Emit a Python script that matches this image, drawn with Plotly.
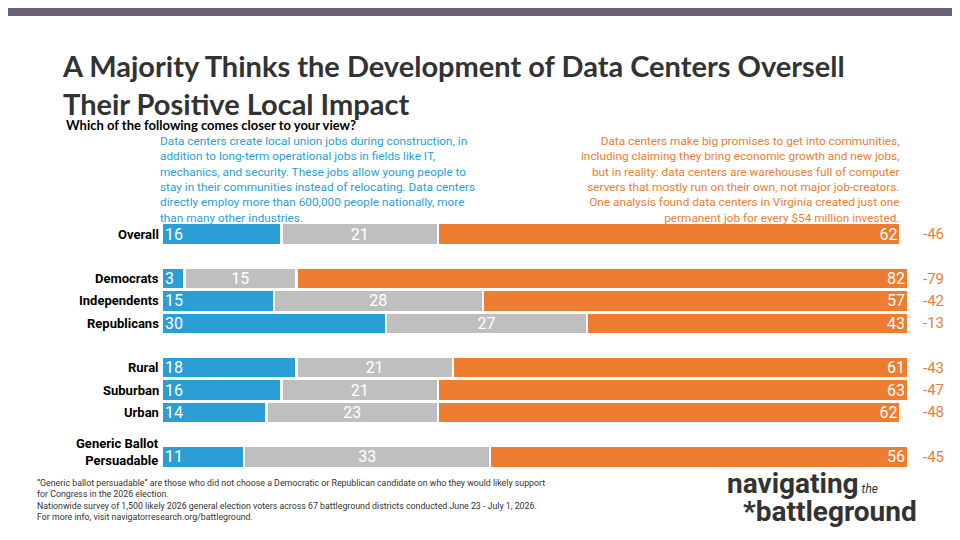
import plotly.graph_objects as go

groups = ["Overall", "Democrats", "Independents", "Republicans", "Rural", "Suburban", "Urban", "Generic Ballot<br>Persuadable"]
slots = [0, 2, 3, 4, 6, 7, 8, 10]
blue_vals = [16, 3, 15, 30, 18, 16, 14, 11]
grey_vals = [21, 15, 28, 27, 21, 21, 23, 33]
orange_vals = [62, 82, 57, 43, 61, 63, 62, 56]
net_vals = [-46, -79, -42, -13, -43, -47, -48, -45]

BLUE = "#2a9fd6"; GREY = "#bfbfbf"; ORANGE = "#ee7d31"
FONT = "Roboto, sans-serif"

fig = go.Figure()
for vals, col, anchor in [(blue_vals, BLUE, "start"), (grey_vals, GREY, "middle"), (orange_vals, ORANGE, "end")]:
    fig.add_bar(y=slots, x=vals, orientation="h", marker=dict(color=col, line=dict(color="white", width=2.5)),
                text=[str(v) for v in vals], textposition="inside", insidetextanchor=anchor, textangle=0,
                constraintext="none",
                textfont=dict(color="white", size=16, family=FONT), width=0.98, hoverinfo="skip")

ann = []
for s, n in zip(slots, net_vals):
    ann.append(dict(x=1.034, xref="paper", y=s, yref="y", text=str(n), showarrow=False, xanchor="center",
                    font=dict(color=ORANGE, size=15, family=FONT)))
ann.append(dict(x=1.034, xref="paper", y=-0.85, yref="y", text="<b>Net</b>", showarrow=False,
                font=dict(color="black", size=13, family=FONT)))
ann.append(dict(x=0.49, xref="paper", y=-0.85, yref="y", text="Don’t know", showarrow=False,
                font=dict(color="#bfbfbf", size=12, family=FONT)))
for s, g in zip(slots, groups):
    yy = s - 0.2 if "<br>" in g else s
    ann.append(dict(x=-0.002, xref="paper", y=yy, yref="y", text="<b>%s</b>" % g, showarrow=False, xanchor="right",
                    align="right", font=dict(color="black", size=13, family=FONT)))

fig.update_layout(
    barmode="stack", width=960, height=540, showlegend=False,
    plot_bgcolor="white", paper_bgcolor="white",
    margin=dict(l=154, r=60, t=215, b=80),
    xaxis=dict(range=[0, 100], visible=False),
    yaxis=dict(range=[10.5, -0.5], visible=False),
    bargap=0.04, annotations=ann,
    shapes=[dict(type="rect", xref="paper", yref="paper", x0=-0.3, x1=1.3,
                 y0=(460-8)/245, y1=(460+20)/245, fillcolor="#6b5f73", line=dict(width=0))],
)

def page(x, y, t, sz, c, anc, fam=FONT, yanc="top"):
    fig.add_annotation(x=(x-154)/746, y=(460-y)/245, xref="paper", yref="paper", text=t, showarrow=False,
                       xanchor=anc, yanchor=yanc, align=anc, font=dict(size=sz, color=c, family=fam))

page(52, 77, "<b>A Majority Thinks the Development of Data Centers Oversell<br>Their Positive Local Impact</b>", 29, "#333333", "left", "Lato, sans-serif", "middle")
page(56, 117, "<b>Which of the following comes closer to your view?</b>", 13, "black", "left", "Lato, sans-serif", "middle")
page(150, 124, "Data centers create local union jobs during construction, in<br>addition to long-term operational jobs in fields like IT,<br>mechanics, and security. These jobs allow young people to<br>stay in their communities instead of relocating. Data centers<br>directly employ more than 600,000 people nationally, more<br>than many other industries.", 11.8, BLUE, "left")
page(893, 124, "Data centers make big promises to get into communities,<br>including claiming they bring economic growth and new jobs,<br>but in reality: data centers are warehouses full of computer<br>servers that mostly run on their own, not major job-creators.<br>One analysis found data centers in Virginia created just one<br>permanent job for every $54 million invested.", 11.8, ORANGE, "right")
page(27, 468, "“Generic ballot persuadable” are those who did not choose a Democratic or Republican candidate on who they would likely support<br>for Congress in the 2026 election.<br>Nationwide survey of 1,500 likely 2026 general election voters across 67 battleground districts conducted June 23 - July 1, 2026.<br>For more info, visit navigatorresearch.org/battleground.", 8.8, "#333333", "left")
page(717, 475, "<b>navigating</b><span style='font-size:12px'><i> the</i></span>", 28, "#333333", "left", FONT, "middle")
page(733, 503, "<b>*battleground</b>", 28, "#333333", "left", FONT, "middle")
fig.write_html("out.html")
